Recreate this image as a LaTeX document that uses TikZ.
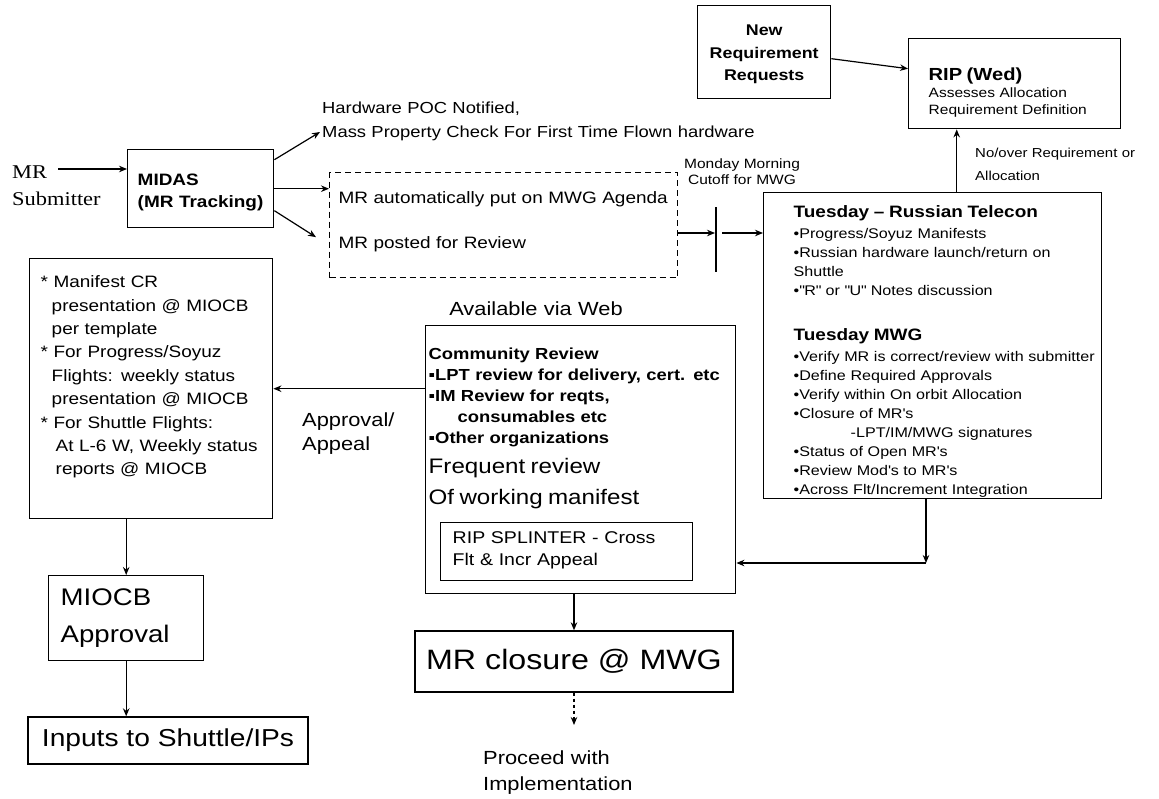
\documentclass[tikz,border=0pt]{standalone}
\usepackage{fontspec}
\setmainfont{Liberation Sans}[FakeStretch=1.15]
\newfontfamily\subfont{Liberation Serif}[FakeStretch=1.15]
\usetikzlibrary{arrows,arrows.meta,positioning,calc}
\newcommand{\fsz}[2]{\fontsize{#1}{#2}\selectfont}
\tikzstyle{box} = [rectangle, draw=black, line width=1.4pt, anchor=north west, inner sep=0pt, align=left]
\tikzstyle{dbox} = [box, dash pattern=on 6pt off 4pt, line width=1.3pt]
\tikzstyle{cbox} = [rectangle, draw=black, line width=1.4pt, inner sep=0pt, align=center]
\tikzstyle{txt} = [inner sep=0pt, anchor=base west, align=left]
\tikzstyle{arrow} = [line width=1.2pt,->,>={Stealth[length=8pt,width=6.5pt]}]
\begin{document}
\begin{tikzpicture}[x=1pt,y=-1pt]
\useasboundingbox (0,0) rectangle (1159,798);

\node (submitter) [txt, text width=110pt, font=\subfont\fsz{19.5}{27}] at (12,178) {MR\\Submitter};
\node (midas) [box, text width=146pt, text height=36pt, text depth=42pt, font=\bfseries\fsz{16.5}{22}] at (127,149) {\leftskip=10pt\relax MIDAS\\(MR Tracking)\par};
\node (hw) [txt, text width=450pt, font=\fsz{16}{24}] at (322,113) {Hardware POC Notified,\\Mass Property Check For First Time Flown hardware};
\node (dash) [dbox, text width=348pt, text height=31pt, text depth=74pt, font=\fsz{16.5}{45}] at (329,172) {\leftskip=9pt\relax MR automatically put on MWG Agenda\\MR posted for Review\par};
\node (monday) [txt, anchor=base, align=center, text width=140pt, font=\fsz{13.5}{16}] at (742,168) {Monday Morning\\Cutoff for MWG};
\coordinate (cut) at (715,233);
\coordinate (cuttop) at (716,207);
\coordinate (cutbot) at (716,272);

\node (newreq) [box, align=center, text width=133pt, text height=30pt, text depth=63pt, font=\bfseries\fsz{15.5}{22.5}] at (697,5) {New\\Requirement\\Requests};
\node (rip) [box, text width=212pt, text height=42pt, text depth=48pt, font=\fsz{13.5}{17}] at (908,38) {\leftskip=20pt\relax {\bfseries\fsz{17.5}{17}RIP (Wed)}\\Assesses Allocation\\Requirement Definition\par};
\node (noover) [txt, text width=200pt, font=\fsz{13}{23}] at (975,157) {No/over Requirement or\\Allocation};

\node (tue) [box, text width=338pt, text height=25pt, text depth=281pt, font=\fsz{14}{19}] at (763,192) {\leftskip=30pt\relax {\bfseries\fsz{16.5}{19}Tuesday – Russian Telecon}\\[2pt]
•Progress/Soyuz Manifests\\
•Russian hardware launch/return on\\
Shuttle\\
•\textquotedbl R\textquotedbl{} or \textquotedbl U\textquotedbl{} Notes discussion\\[26pt]
{\bfseries\fsz{16.5}{19}Tuesday MWG}\\[2pt]
•Verify MR is correct/review with submitter\\
•Define Required Approvals\\
•Verify within On orbit Allocation\\
•Closure of MR\textquotesingle s\\
\hspace*{57pt}-LPT/IM/MWG signatures\\
•Status of Open MR\textquotesingle s\\
•Review Mod\textquotesingle s to MR\textquotesingle s\\
•Across Flt/Increment Integration\par};

\node (man) [box, text width=243pt, text height=29pt, text depth=231pt, font=\fsz{16.5}{23.4}] at (29,258) {\leftskip=11pt\relax * Manifest CR\\
\hspace*{11pt}presentation @ MIOCB\\
\hspace*{11pt}per template\\{}
* For Progress/Soyuz\\
\hspace*{11pt}Flights: weekly status\\
\hspace*{11pt}presentation @ MIOCB\\{}
* For Shuttle Flights:\\
\hspace*{15pt}At L-6 W, Weekly status\\
\hspace*{15pt}reports @ MIOCB\par};
\node (approval) [txt, text width=120pt, font=\fsz{19}{24}] at (302,426) {Approval/\\Appeal};

\node (avail) [txt, anchor=base, align=center, text width=250pt, font=\fsz{19}{24}] at (536,315) {Available via Web};
\node (comm) [box, text width=310pt, text height=34pt, text depth=234pt, font=\bfseries\fsz{16}{21}] at (425,325) {\leftskip=3pt\relax Community Review\\
▪LPT review for delivery, cert. etc\\
▪IM Review for reqts,\\
\hspace*{29pt}consumables etc\\
▪Other organizations\\[9pt]
{\mdseries\fsz{21}{31}Frequent review}\\[10pt]
{\mdseries\fsz{21}{31}Of working manifest}\par};
\node (splinter) [box, text width=252pt, text height=21pt, text depth=37pt, font=\fsz{17}{22}] at (440,522) {\leftskip=12pt\relax RIP SPLINTER - Cross\\Flt \& Incr Appeal\par};
\node (closure) [cbox, minimum width=318pt, minimum height=61pt, font=\fsz{28}{30}] at (574,661.5) {MR closure @ MWG};
\node (proceed) [txt, text width=200pt, font=\fsz{19}{26}] at (483,764) {Proceed with\\Implementation};

\node (miocb) [box, text width=155pt, text height=30pt, text depth=55pt, font=\fsz{24}{37}] at (48,575) {\leftskip=12pt\relax MIOCB\\Approval\par};
\node (inputs) [cbox, minimum width=280pt, minimum height=47pt, font=\fsz{24.5}{26}] at (168,740.5) {Inputs to Shuttle/IPs};

\coordinate (subout) at (58,169);
\coordinate (tueup) at ([xshift=24pt]tue.north);
\coordinate (tuecorner) at (926,563);
\coordinate (procarrow) at (574,725);

\draw [arrow] (subout) -- (subout -| midas.west);
\draw [arrow] ([yshift=29pt]midas.east) -- ([xshift=-2pt,yshift=-19pt]hw.base west);
\draw [arrow] (midas.east) -- (midas.east -| dash.west);
\draw [arrow] ([yshift=-22pt]midas.east) -- ([xshift=-13pt,yshift=-12pt]dash.west);
\draw [arrow] (dash.east |- cut) -- (cut);
\draw [line width=1.2pt] (cuttop) -- (cutbot);
\draw [arrow] ([xshift=7pt]cut) -- (cut -| tue.west);
\draw [arrow] ([yshift=-6.5pt]newreq.east) -- ([yshift=15pt]rip.west);
\draw [arrow] (tueup) -- (tueup |- rip.south);
\draw [arrow] (tuecorner |- tue.south) -- (tuecorner);
\draw [arrow] (tuecorner) -- (tuecorner -| comm.east);
\draw [arrow] (man.east -| comm.west) -- (man.east);
\draw [arrow] (closure.north |- comm.south) -- (closure.north);
\draw [arrow, dashed] (closure.south) -- (procarrow);
\draw [arrow] (miocb.north |- man.south) -- (miocb.north);
\draw [arrow] (miocb.south) -- (miocb.south |- inputs.north);
\end{tikzpicture}
\end{document}
